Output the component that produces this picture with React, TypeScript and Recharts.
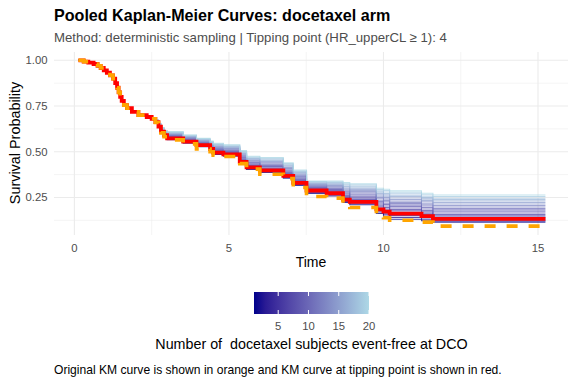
import React from 'react'
import { LineChart, Line, XAxis, YAxis, CartesianGrid } from 'recharts'

// shared part of every curve (curves coincide until ~2.5)
const earlyTimes = [0.13, 0.3, 0.45, 0.62, 0.75, 0.85, 0.95, 1.05, 1.15, 1.25, 1.32, 1.38, 1.43, 1.48, 1.53, 1.6, 1.7, 1.86, 2.07, 2.34, 2.5]
const earlySurv = [1.0, 0.993, 0.987, 0.98, 0.97, 0.958, 0.945, 0.932, 0.918, 0.9, 0.875, 0.85, 0.825, 0.8, 0.778, 0.755, 0.738, 0.718, 0.7, 0.69, 0.68]

// step times after the curves separate
const lateTimes = [2.62, 2.72, 2.8, 2.9, 3.0, 3.52, 3.95, 4.39, 4.49, 4.82, 5.35, 5.57, 6.0, 6.76, 7.08, 7.51, 8.16, 8.69, 8.91, 9.77, 10.0, 10.2, 11.23, 11.6, 15.24]

// original KM (orange)
const originalLate = [0.66, 0.632, 0.603, 0.582, 0.565, 0.543, 0.515, 0.5, 0.481, 0.474, 0.435, 0.405, 0.377, 0.353, 0.304, 0.255, 0.246, 0.204, 0.195, 0.14, 0.139, 0.125, 0.115, 0.093, 0.093]

// one row per number of event-free subjects (1..20)
const eventFreeLate = [
  [0.659, 0.633, 0.605, 0.584, 0.566, 0.547, 0.527, 0.505, 0.485, 0.476, 0.435, 0.403, 0.386, 0.355, 0.316, 0.272, 0.258, 0.222, 0.21, 0.162, 0.147, 0.131, 0.122, 0.115, 0.115],
  [0.66, 0.634, 0.607, 0.586, 0.568, 0.55, 0.53, 0.508, 0.488, 0.479, 0.438, 0.407, 0.39, 0.359, 0.321, 0.277, 0.263, 0.227, 0.215, 0.17, 0.155, 0.141, 0.131, 0.121, 0.121],
  [0.661, 0.636, 0.608, 0.588, 0.571, 0.552, 0.533, 0.512, 0.492, 0.482, 0.442, 0.41, 0.394, 0.364, 0.325, 0.283, 0.268, 0.233, 0.221, 0.177, 0.164, 0.151, 0.139, 0.127, 0.127],
  [0.662, 0.637, 0.61, 0.59, 0.573, 0.555, 0.536, 0.515, 0.495, 0.485, 0.445, 0.414, 0.398, 0.368, 0.33, 0.288, 0.273, 0.238, 0.226, 0.185, 0.172, 0.161, 0.148, 0.133, 0.133],
  [0.663, 0.638, 0.611, 0.592, 0.575, 0.557, 0.538, 0.518, 0.498, 0.488, 0.449, 0.418, 0.402, 0.372, 0.334, 0.291, 0.277, 0.244, 0.232, 0.192, 0.18, 0.169, 0.156, 0.141, 0.141],
  [0.664, 0.639, 0.613, 0.593, 0.578, 0.56, 0.541, 0.52, 0.501, 0.492, 0.453, 0.422, 0.407, 0.377, 0.339, 0.295, 0.281, 0.25, 0.238, 0.199, 0.187, 0.177, 0.164, 0.149, 0.149],
  [0.664, 0.64, 0.614, 0.595, 0.58, 0.562, 0.543, 0.523, 0.505, 0.495, 0.456, 0.425, 0.411, 0.381, 0.343, 0.298, 0.286, 0.255, 0.245, 0.207, 0.195, 0.184, 0.171, 0.157, 0.157],
  [0.665, 0.641, 0.616, 0.596, 0.582, 0.564, 0.545, 0.526, 0.508, 0.498, 0.46, 0.429, 0.416, 0.386, 0.348, 0.301, 0.29, 0.261, 0.251, 0.214, 0.203, 0.192, 0.179, 0.165, 0.165],
  [0.666, 0.643, 0.617, 0.598, 0.584, 0.567, 0.548, 0.529, 0.511, 0.501, 0.464, 0.433, 0.42, 0.39, 0.352, 0.304, 0.294, 0.267, 0.257, 0.221, 0.211, 0.2, 0.187, 0.174, 0.174],
  [0.667, 0.644, 0.618, 0.6, 0.587, 0.569, 0.55, 0.531, 0.514, 0.505, 0.468, 0.437, 0.424, 0.395, 0.356, 0.308, 0.298, 0.273, 0.263, 0.228, 0.218, 0.208, 0.195, 0.182, 0.182],
  [0.668, 0.645, 0.62, 0.601, 0.589, 0.571, 0.552, 0.534, 0.517, 0.508, 0.472, 0.441, 0.429, 0.399, 0.361, 0.311, 0.302, 0.279, 0.269, 0.235, 0.226, 0.216, 0.203, 0.19, 0.19],
  [0.668, 0.646, 0.621, 0.603, 0.591, 0.573, 0.554, 0.537, 0.521, 0.511, 0.475, 0.444, 0.433, 0.404, 0.365, 0.314, 0.307, 0.284, 0.276, 0.243, 0.234, 0.223, 0.21, 0.198, 0.198],
  [0.669, 0.647, 0.623, 0.604, 0.594, 0.576, 0.557, 0.539, 0.524, 0.515, 0.479, 0.448, 0.438, 0.408, 0.37, 0.317, 0.311, 0.29, 0.282, 0.25, 0.241, 0.231, 0.218, 0.206, 0.206],
  [0.67, 0.648, 0.624, 0.606, 0.596, 0.578, 0.559, 0.542, 0.527, 0.518, 0.483, 0.452, 0.442, 0.413, 0.374, 0.321, 0.315, 0.296, 0.288, 0.257, 0.249, 0.239, 0.226, 0.214, 0.214],
  [0.671, 0.649, 0.625, 0.608, 0.598, 0.58, 0.561, 0.545, 0.53, 0.521, 0.487, 0.456, 0.446, 0.417, 0.378, 0.324, 0.319, 0.302, 0.294, 0.264, 0.257, 0.247, 0.234, 0.222, 0.222],
  [0.672, 0.65, 0.627, 0.609, 0.601, 0.583, 0.564, 0.547, 0.533, 0.525, 0.491, 0.46, 0.451, 0.422, 0.383, 0.327, 0.323, 0.308, 0.3, 0.271, 0.264, 0.255, 0.242, 0.23, 0.23],
  [0.672, 0.651, 0.628, 0.611, 0.603, 0.585, 0.566, 0.55, 0.537, 0.528, 0.494, 0.463, 0.455, 0.426, 0.387, 0.33, 0.328, 0.313, 0.307, 0.279, 0.272, 0.262, 0.249, 0.238, 0.238],
  [0.673, 0.652, 0.63, 0.612, 0.605, 0.587, 0.568, 0.553, 0.54, 0.531, 0.498, 0.467, 0.46, 0.431, 0.392, 0.334, 0.332, 0.319, 0.313, 0.286, 0.28, 0.27, 0.257, 0.246, 0.246],
  [0.674, 0.654, 0.631, 0.614, 0.608, 0.59, 0.571, 0.556, 0.543, 0.535, 0.502, 0.471, 0.464, 0.435, 0.396, 0.337, 0.336, 0.325, 0.319, 0.293, 0.288, 0.278, 0.265, 0.255, 0.255],
  [0.675, 0.655, 0.632, 0.616, 0.61, 0.592, 0.573, 0.558, 0.546, 0.538, 0.506, 0.475, 0.468, 0.44, 0.4, 0.34, 0.34, 0.331, 0.325, 0.3, 0.295, 0.286, 0.273, 0.263, 0.263],
]
const tippingPoint = 4

const xTicks = [0, 5, 10, 15]
const xMinor = [2.5, 7.5, 12.5]
const yTicks = [0.25, 0.5, 0.75, 1]
const yMinor = [0.125, 0.375, 0.625, 0.875]
const legendTicks = [5, 10, 15, 20]

const LOW = '#00008B'
const HIGH = '#ADD8E6'
const FONT = '"Liberation Sans", Arial, sans-serif'

// colour ramp in CIELAB, like ggplot's gradient scale
const WHITE = [0.95047, 1, 1.08883]
const lin = (c: number) => (c <= 0.04045 ? c / 12.92 : Math.pow((c + 0.055) / 1.055, 2.4))
const delin = (c: number) => (c <= 0.0031308 ? 12.92 * c : 1.055 * Math.pow(c, 1 / 2.4) - 0.055)
const f = (t: number) => (t > 216 / 24389 ? Math.cbrt(t) : ((24389 / 27) * t + 16) / 116)
const finv = (t: number) => (t * t * t > 216 / 24389 ? t * t * t : (116 * t - 16) / (24389 / 27))

function toLab(hex: string) {
  const [r, g, b] = [1, 3, 5].map((i) => lin(parseInt(hex.slice(i, i + 2), 16) / 255))
  const X = (0.4124564 * r + 0.3575761 * g + 0.1804375 * b) / WHITE[0]
  const Y = (0.2126729 * r + 0.7151522 * g + 0.072175 * b) / WHITE[1]
  const Z = (0.0193339 * r + 0.119192 * g + 0.9503041 * b) / WHITE[2]
  return [116 * f(Y) - 16, 500 * (f(X) - f(Y)), 200 * (f(Y) - f(Z))]
}

function fromLab([L, a, b]: number[]) {
  const fy = (L + 16) / 116
  const X = finv(fy + a / 500) * WHITE[0]
  const Y = finv(fy) * WHITE[1]
  const Z = finv(fy - b / 200) * WHITE[2]
  const rgb = [
    3.2404542 * X - 1.5371385 * Y - 0.4985314 * Z,
    -0.969266 * X + 1.8760108 * Y + 0.041556 * Z,
    0.0556434 * X - 0.2040259 * Y + 1.0572252 * Z,
  ]
  return '#' + rgb.map((c) => Math.round(Math.min(1, Math.max(0, delin(c))) * 255).toString(16).padStart(2, '0')).join('')
}

const lowLab = toLab(LOW)
const highLab = toLab(HIGH)
const ramp = (p: number) => fromLab(lowLab.map((v, i) => v + (highLab[i] - v) * p))

const allTimes = earlyTimes.concat(lateTimes)
const toSeries = (late: number[]) => {
  const s = earlySurv.concat(late)
  return allTimes.map((t, i) => ({ t, s: s[i] }))
}

const XTick = ({ x, payload }: any) => (
  <text x={x} y={248} textAnchor="middle" dominantBaseline="central" fill="#4D4D4D" fontSize={11.3} fontFamily={FONT}>
    {payload.value}
  </text>
)

const YTick = ({ y, payload }: any) => (
  <text x={47.5} y={y} textAnchor="end" dominantBaseline="central" fill="#4D4D4D" fontSize={11.3} fontFamily={FONT}>
    {Number(payload.value).toFixed(2)}
  </text>
)

// legend bar geometry
const barX0 = 254
const barX1 = 369
const barY0 = 292
const barY1 = 314
const legendX = (v: number) => barX0 + ((v - 1) / 19) * (barX1 - barX0)

export default function App() {
  return (
    <div style={{ position: 'absolute', left: 0, top: 0, width: 576, height: 384, background: '#fff', fontFamily: FONT }}>
      <LineChart width={576} height={384} margin={{ top: 52, right: 8, left: 0, bottom: 119 }}>
        <CartesianGrid horizontalValues={yMinor} verticalValues={xMinor} stroke="#EBEBEB" strokeWidth={0.55} />
        <CartesianGrid horizontalValues={yTicks} verticalValues={xTicks} stroke="#EBEBEB" strokeWidth={1.1} />
        <XAxis
          type="number"
          dataKey="t"
          domain={[-0.66, 15.97]}
          ticks={xTicks}
          allowDataOverflow
          axisLine={false}
          tickLine={false}
          tick={<XTick />}
          height={30}
        />
        <YAxis
          type="number"
          domain={[0.0445, 1.0455]}
          ticks={yTicks}
          allowDataOverflow
          axisLine={false}
          tickLine={false}
          tick={<YTick />}
          width={54}
        />
        {eventFreeLate.map((row, i) => (
          <Line
            key={'k' + (i + 1)}
            data={toSeries(row)}
            dataKey="s"
            type="stepAfter"
            stroke={ramp(i / 19)}
            strokeWidth={1.05}
            strokeOpacity={0.75}
            dot={false}
            isAnimationActive={false}
          />
        ))}
        <Line
          data={toSeries(eventFreeLate[tippingPoint - 1])}
          dataKey="s"
          type="stepAfter"
          stroke="#FF0000"
          strokeWidth={3.8}
          dot={false}
          isAnimationActive={false}
        />
        <Line
          data={toSeries(originalLate)}
          dataKey="s"
          type="stepAfter"
          stroke="#FFA500"
          strokeWidth={3.6}
          strokeDasharray="11 11"
          dot={false}
          isAnimationActive={false}
        />
      </LineChart>
      <svg width={576} height={384} style={{ position: 'absolute', left: 0, top: 0, pointerEvents: 'none' }} fontFamily={FONT}>
        <defs>
          <linearGradient id="legendGrad" x1="0" x2="1" y1="0" y2="0">
            {Array.from({ length: 11 }, (_, i) => (
              <stop key={i} offset={i / 10} stopColor={ramp(i / 10)} />
            ))}
          </linearGradient>
        </defs>
        <text x={54} y={21} fontSize={16.1} fontWeight="bold" fill="#000">
          Pooled Kaplan-Meier Curves: docetaxel arm
        </text>
        <text x={54} y={42} fontSize={13.2} fill="#4D4D4D">
          Method: deterministic sampling | Tipping point (HR_upperCL ≥ 1): 4
        </text>
        <text x={14.5} y={143} fontSize={14.4} fill="#000" textAnchor="middle" dominantBaseline="central" transform="rotate(-90 14.5 143)">
          Survival Probability
        </text>
        <text x={311} y={262} fontSize={14} fill="#000" textAnchor="middle" dominantBaseline="central">
          Time
        </text>
        <rect x={barX0} y={barY0} width={barX1 - barX0} height={barY1 - barY0} fill="url(#legendGrad)" />
        {legendTicks.map((v) => (
          <g key={v}>
            <line x1={legendX(v)} x2={legendX(v)} y1={barY0} y2={barY0 + 4} stroke="#fff" strokeWidth={1} />
            <line x1={legendX(v)} x2={legendX(v)} y1={barY1 - 4} y2={barY1} stroke="#fff" strokeWidth={1} />
            <text x={legendX(v)} y={326} fontSize={11.3} fill="#4D4D4D" textAnchor="middle" dominantBaseline="central">
              {v}
            </text>
          </g>
        ))}
        <text x={311.5} y={344} fontSize={14.3} fill="#000" textAnchor="middle" dominantBaseline="central" style={{ whiteSpace: 'pre' }}>
          {'Number of  docetaxel subjects event-free at DCO'}
        </text>
        <text x={54} y={370} fontSize={12.1} fill="#000" dominantBaseline="central">
          Original KM curve is shown in orange and KM curve at tipping point is shown in red.
        </text>
      </svg>
    </div>
  )
}
